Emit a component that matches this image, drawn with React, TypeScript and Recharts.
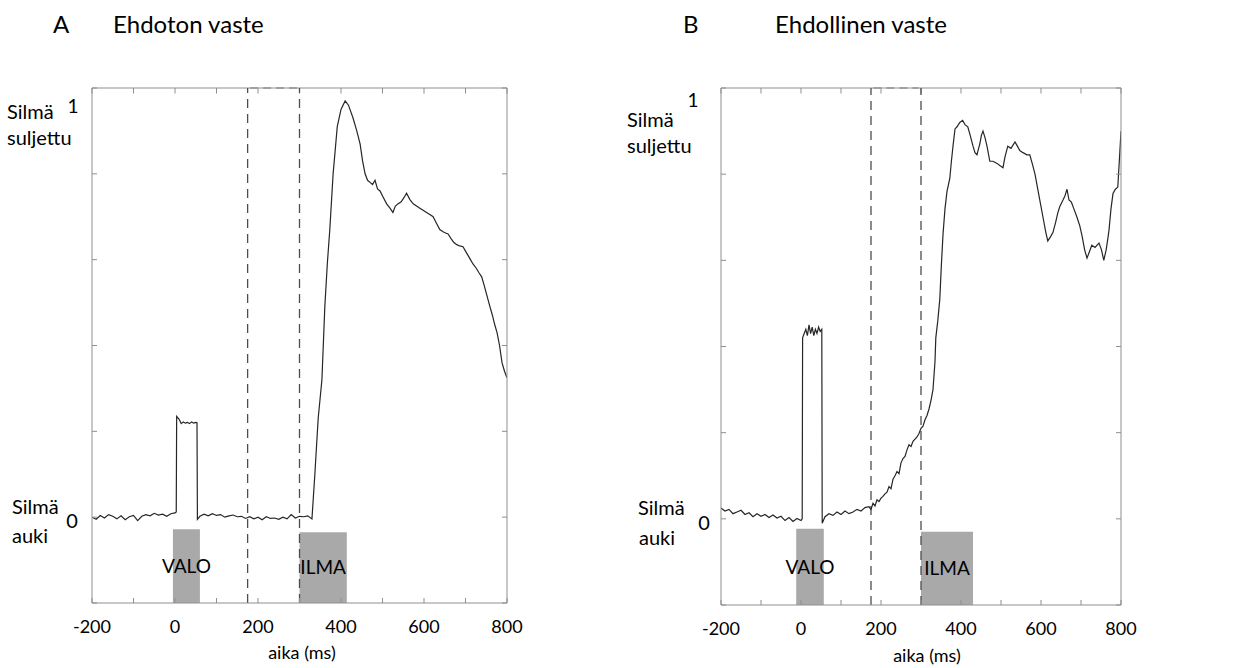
import React from "react";
import { LineChart, Line, XAxis, YAxis, ReferenceArea, ReferenceLine } from "recharts";

// time axis (ms) and eyelid closure (0 = open, 1 = closed)
const xTicks = [-200, -100, 0, 100, 200, 300, 400, 500, 600, 700, 800];
const xLabelTicks = [-200, 0, 200, 400, 600, 800];
const yTicks = [-0.2, 0, 0.2, 0.4, 0.6, 0.8, 1];

// A: unconditioned response
const timeA = [
  -200, -190, -180, -170, -160, -150, -140, -130, -120, -110, -100, -90, -80, -70, -60, -50, -40, -30, -20, -10,
  0, 3, 4, 10, 15, 20, 25, 30, 35, 40, 45, 50, 53, 54, 60, 70, 80, 90, 100, 110, 120, 130, 140, 150, 160, 170,
  180, 190, 200, 210, 220, 230, 240, 250, 260, 270, 280, 290, 300, 310, 320, 330, 337, 345, 354, 361, 367, 373,
  381, 391, 400, 410, 418, 429, 438, 446, 452, 458, 464, 470, 476, 482, 488, 494, 502, 510, 518, 525, 531, 537,
  545, 552, 558, 566, 574, 582, 590, 598, 606, 614, 622, 630, 638, 646, 652, 658, 666, 672, 679, 686, 694, 700,
  706, 712, 718, 726, 732, 739, 745, 752, 759, 765, 770, 776, 782, 788, 794, 800,
];
const eyelidA = [
  0.0, -0.005, 0.004, -0.002, 0.006, 0.002, -0.004, 0.003, -0.006, 0.001, 0.004, -0.008, 0.002, 0.006, 0.003, 0.009, 0.005, 0.007, 0.002, 0.008,
  0.01, 0.012, 0.235, 0.228, 0.218, 0.222, 0.219, 0.221, 0.218, 0.222, 0.219, 0.221, 0.22, -0.005, 0.002, 0.007, 0.003, 0.008, 0.004, 0.006, 0.0, 0.003, 0.005, 0.001, 0.002, -0.003,
  0.001, -0.004, 0.0, -0.006, 0.001, -0.003, -0.002, -0.005, 0.0, -0.004, 0.006, -0.002, 0.002, 0.001, 0.003, -0.004, 0.1, 0.23, 0.32, 0.49, 0.59, 0.67,
  0.8, 0.91, 0.95, 0.97, 0.96, 0.93, 0.9, 0.87, 0.83, 0.8, 0.785, 0.78, 0.775, 0.785, 0.765, 0.76, 0.745, 0.73, 0.72, 0.71, 0.725, 0.73,
  0.735, 0.745, 0.755, 0.74, 0.73, 0.725, 0.72, 0.715, 0.71, 0.705, 0.7, 0.685, 0.67, 0.665, 0.662, 0.66, 0.648, 0.64, 0.635, 0.632, 0.63, 0.62,
  0.61, 0.6, 0.59, 0.58, 0.57, 0.56, 0.54, 0.515, 0.49, 0.47, 0.45, 0.43, 0.4, 0.36, 0.34, 0.325,
];

// B: conditioned response
const timeB = [
  -200, -190, -180, -170, -160, -150, -140, -130, -120, -110, -100, -90, -80, -70, -60, -50, -40, -30, -20, -10,
  0, 3, 4, 8, 12, 16, 20, 24, 28, 32, 36, 40, 44, 48, 52, 53, 60, 70, 80, 90, 100, 110, 120, 130, 140, 150, 160,
  170, 175, 180, 185, 190, 195, 200, 205, 210, 215, 220, 225, 230, 235, 240, 245, 250, 255, 260, 265, 270, 275,
  280, 285, 290, 295, 300, 305, 310, 315, 320, 325, 330, 335,
  337, 342, 347, 351, 355, 360, 365, 372, 376, 380, 385, 390, 397, 404, 410, 417, 423, 430, 435, 440, 444, 447,
  451, 455, 460, 465, 472, 480, 490, 497, 505, 510, 517, 525, 535, 541, 547, 555, 565, 572, 578, 585, 591, 597,
  605, 612, 617, 624, 630, 637, 642, 647, 655, 660, 665, 670, 676, 682, 690, 697, 703, 709, 715, 721, 727, 735,
  745, 751, 757, 763, 767, 770, 775, 780, 786, 792, 797, 800,
];
const eyelidB = [
  0.025, 0.018, 0.022, 0.012, 0.016, 0.02, 0.01, 0.014, 0.005, 0.012, 0.006, 0.01, 0.003, 0.009, 0.002, 0.006, -0.004, 0.003, -0.006, 0.001,
  -0.004, 0.0, 0.42, 0.43, 0.44, 0.425, 0.45, 0.43, 0.445, 0.425, 0.44, 0.43, 0.445, 0.435, 0.44, -0.01, 0.005, 0.012, 0.008, 0.016, 0.01, 0.018, 0.012, 0.016, 0.022, 0.018, 0.026,
  0.028, 0.022, 0.036, 0.03, 0.044, 0.04, 0.048, 0.052, 0.058, 0.062, 0.075, 0.07, 0.092, 0.1, 0.11, 0.105, 0.13, 0.14, 0.145, 0.16, 0.172, 0.168,
  0.18, 0.185, 0.19, 0.198, 0.21, 0.215, 0.23, 0.24, 0.255, 0.275, 0.3, 0.365,
  0.42, 0.46, 0.51, 0.59, 0.66, 0.72, 0.76, 0.79, 0.83, 0.865, 0.905, 0.91, 0.92, 0.925, 0.915, 0.91, 0.89, 0.865, 0.85, 0.845, 0.86, 0.87,
  0.89, 0.9, 0.885, 0.865, 0.83, 0.83, 0.825, 0.82, 0.815, 0.84, 0.865, 0.86, 0.875, 0.865, 0.855, 0.85, 0.845, 0.845, 0.825, 0.8, 0.77, 0.74,
  0.7, 0.665, 0.645, 0.655, 0.665, 0.69, 0.71, 0.725, 0.74, 0.75, 0.765, 0.74, 0.735, 0.72, 0.7, 0.68, 0.655, 0.625, 0.605, 0.62, 0.635, 0.63,
  0.64, 0.625, 0.6, 0.625, 0.65, 0.67, 0.72, 0.755, 0.765, 0.77, 0.85, 0.9,
];

// stimulus windows (ms) and dashed marker times
const lightA = [-5, 60];
const airA = [300, 414];
const lightB = [-12, 57];
const airB = [300, 430];
const markerTimes = [175, 300];

const FONT = "Lato, 'Open Sans', sans-serif";
const AXIS = "#8f8f8f";

const Panel = ({ times, values, light, air, lightTop, airTop, width, margin, oneDx, oneDy, zeroDx }) => {
  const data = times.map((t, i) => ({ t, v: values[i] }));

  const renderYTick = (props) => {
    const { x, y, payload } = props;
    if (payload.value === 1) {
      return <text x={x + oneDx} y={y + oneDy} textAnchor="middle" fontSize={19} fontFamily={FONT} fill="#000">1</text>;
    }
    if (payload.value === 0) {
      return <text x={x + zeroDx} y={y + 11} textAnchor="middle" fontSize={20} fontFamily={FONT} fill="#000">0</text>;
    }
    return <g />;
  };

  return (
    <LineChart width={width} height={668} data={data} margin={margin}>
      <XAxis
        dataKey="t"
        type="number"
        domain={[-200, 800]}
        ticks={xTicks}
        interval={0}
        allowDataOverflow
        stroke={AXIS}
        tickSize={-5}
        tickMargin={22}
        height={30}
        tick={{ fontSize: 18, fill: "#000", fontFamily: FONT }}
        tickFormatter={(v) => (xLabelTicks.includes(v) ? String(v) : "")}
      />
      <YAxis
        type="number"
        domain={[-0.2, 1]}
        ticks={yTicks}
        interval={0}
        allowDataOverflow
        stroke={AXIS}
        tickSize={-5}
        tickMargin={5}
        width={40}
        tick={renderYTick}
      />
      <YAxis
        yAxisId="right"
        orientation="right"
        type="number"
        domain={[-0.2, 1]}
        ticks={yTicks}
        interval={0}
        allowDataOverflow
        stroke={AXIS}
        tickSize={-5}
        width={1}
        tickFormatter={() => ""}
      />
      {/* top frame line with inward ticks */}
      <ReferenceLine y={1} stroke={AXIS} strokeWidth={1} />
      {xTicks.map((t) => (
        <ReferenceLine
          key={`top-${t}`}
          segment={[{ x: t, y: 1 }, { x: t, y: 0.987 }]}
          stroke={AXIS}
          strokeWidth={1}
          ifOverflow="visible"
        />
      ))}
      <ReferenceArea
        x1={light[0]}
        x2={light[1]}
        y1={-0.2}
        y2={lightTop}
        fill="#a9a9a9"
        fillOpacity={1}
        stroke="none"
        label={{ value: "VALO", position: "center", fill: "#000", fontSize: 19, fontFamily: FONT }}
      />
      <ReferenceArea
        x1={air[0]}
        x2={air[1]}
        y1={-0.2}
        y2={airTop}
        fill="#a9a9a9"
        fillOpacity={1}
        stroke="none"
        label={{ value: "ILMA", position: "center", fill: "#000", fontSize: 19, fontFamily: FONT }}
      />
      {markerTimes.map((m) => (
        <ReferenceLine key={m} x={m} stroke="#4d4d4d" strokeWidth={1.3} strokeDasharray="9 6" />
      ))}
      <ReferenceLine
        segment={[{ x: 181, y: 1 }, { x: 294, y: 1 }]}
        stroke="#a0a0a0"
        strokeWidth={2}
        strokeDasharray="8 5"
      />
      <Line
        dataKey="v"
        type="linear"
        stroke="#262626"
        strokeWidth={1.2}
        dot={false}
        isAnimationActive={false}
      />
    </LineChart>
  );
};

const Label = ({ left, top, size, children }) => (
  <div
    style={{
      position: "absolute",
      left,
      top,
      fontSize: size,
      lineHeight: `${size}px`,
      whiteSpace: "nowrap",
      color: "#000",
    }}
  >
    {children}
  </div>
);

const AxisTitle = ({ center, top }) => (
  <div
    style={{
      position: "absolute",
      left: center - 60,
      width: 120,
      top,
      textAlign: "center",
      fontSize: 18,
      lineHeight: "18px",
      color: "#000",
    }}
  >
    aika (ms)
  </div>
);

export default function App() {
  return (
    <div
      style={{
        position: "absolute",
        left: 0,
        top: 0,
        width: 1260,
        height: 668,
        background: "#fff",
        fontFamily: FONT,
        overflow: "hidden",
      }}
    >
      <div style={{ position: "absolute", left: 0, top: 0 }}>
        <Panel
          times={timeA}
          values={eyelidA}
          light={lightA}
          air={airA}
          lightTop={-0.028}
          airTop={-0.035}
          width={620}
          margin={{ top: 88, right: 112, bottom: 35, left: 52 }}
          oneDx={-19}
          oneDy={25}
          zeroDx={-20}
        />
      </div>
      <div style={{ position: "absolute", left: 620, top: 0 }}>
        <Panel
          times={timeB}
          values={eyelidB}
          light={lightB}
          air={airB}
          lightTop={-0.023}
          airTop={-0.03}
          width={640}
          margin={{ top: 88, right: 138, bottom: 33, left: 61 }}
          oneDx={-28}
          oneDy={19}
          zeroDx={-17}
        />
      </div>

      <Label left={53} top={12} size={24}>A</Label>
      <Label left={113} top={12} size={24}>Ehdoton vaste</Label>
      <Label left={683} top={12} size={24}>B</Label>
      <Label left={775} top={12} size={24}>Ehdollinen vaste</Label>

      <Label left={7} top={101} size={20}>Silmä</Label>
      <Label left={7} top={127} size={20}>suljettu</Label>
      <Label left={12} top={496} size={20}>Silmä</Label>
      <Label left={12} top={525} size={20}>auki</Label>

      <Label left={627} top={109} size={20}>Silmä</Label>
      <Label left={627} top={135} size={20}>suljettu</Label>
      <Label left={638} top={497} size={20}>Silmä</Label>
      <Label left={639} top={527} size={20}>auki</Label>

      <AxisTitle center={302} top={643} />
      <AxisTitle center={927} top={646} />
    </div>
  );
}
